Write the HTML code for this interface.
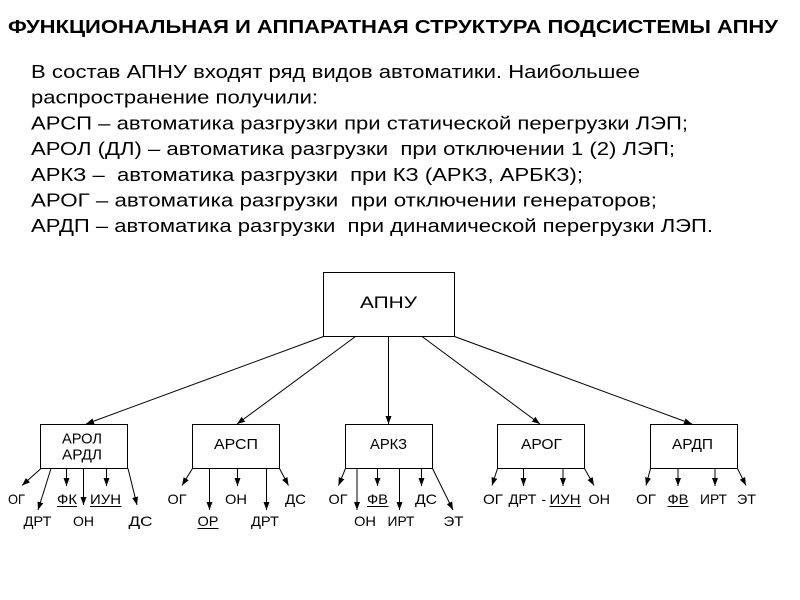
<!DOCTYPE html>
<html>
<head>
<meta charset="utf-8">
<style>
  html, body { margin:0; padding:0; background:#fff; }
  svg { display:block; }
  text { font-family: "Liberation Sans", "DejaVu Sans", sans-serif; fill:#000; }
  .b { font-size:18px; white-space:pre; }
  .s { font-size:14px; }
  .bx { font-size:15px; }
</style>
</head>
<body>
<svg width="800" height="600" viewBox="0 0 800 600" xmlns="http://www.w3.org/2000/svg">
  <defs>
    <marker id="ah" markerUnits="userSpaceOnUse" markerWidth="10" markerHeight="8" refX="8" refY="3" orient="auto">
      <path d="M0,0 L8,3 L0,6 z" fill="#000"/>
    </marker>
  </defs>

  <!-- Title -->
  <text x="8" y="33" font-size="18" font-weight="bold" textLength="770" lengthAdjust="spacingAndGlyphs">ФУНКЦИОНАЛЬНАЯ И АППАРАТНАЯ СТРУКТУРА ПОДСИСТЕМЫ АПНУ</text>

  <!-- Body text -->
  <text class="b" x="31" y="78" textLength="609" lengthAdjust="spacingAndGlyphs">В состав АПНУ входят ряд видов автоматики. Наибольшее</text>
  <text class="b" x="31" y="103.7" textLength="287" lengthAdjust="spacingAndGlyphs">распространение получили:</text>
  <text class="b" x="31" y="129.4" textLength="657" lengthAdjust="spacingAndGlyphs">АРСП – автоматика разгрузки при статической перегрузки ЛЭП;</text>
  <text class="b" x="31" y="155.1" textLength="644" lengthAdjust="spacingAndGlyphs">АРОЛ (ДЛ) – автоматика разгрузки  при отключении 1 (2) ЛЭП;</text>
  <text class="b" x="31" y="180.8" textLength="552" lengthAdjust="spacingAndGlyphs">АРКЗ –  автоматика разгрузки  при КЗ (АРКЗ, АРБКЗ);</text>
  <text class="b" x="31" y="206.5" textLength="626" lengthAdjust="spacingAndGlyphs">АРОГ – автоматика разгрузки  при отключении генераторов;</text>
  <text class="b" x="31" y="232.2" textLength="682" lengthAdjust="spacingAndGlyphs">АРДП – автоматика разгрузки  при динамической перегрузки ЛЭП.</text>

  <!-- Boxes -->
  <g fill="none" stroke="#000" stroke-width="1">
    <rect x="323.5" y="272.5" width="131" height="64"/>
    <rect x="40.5" y="424.5" width="87" height="44"/>
    <rect x="192.5" y="424.5" width="87" height="44"/>
    <rect x="345.5" y="424.5" width="87" height="44"/>
    <rect x="497.5" y="424.5" width="87" height="44"/>
    <rect x="650.5" y="424.5" width="87" height="44"/>
  </g>

  <text x="360" y="308" font-size="17" textLength="57" lengthAdjust="spacingAndGlyphs">АПНУ</text>
  <text class="bx" x="62" y="443.5" textLength="40" lengthAdjust="spacingAndGlyphs">АРОЛ</text>
  <text class="bx" x="62" y="459.5" textLength="40" lengthAdjust="spacingAndGlyphs">АРДЛ</text>
  <text class="bx" x="214" y="449" textLength="44" lengthAdjust="spacingAndGlyphs">АРСП</text>
  <text class="bx" x="370" y="449" textLength="37" lengthAdjust="spacingAndGlyphs">АРКЗ</text>
  <text class="bx" x="521" y="449" textLength="41" lengthAdjust="spacingAndGlyphs">АРОГ</text>
  <text class="bx" x="672" y="449" textLength="41" lengthAdjust="spacingAndGlyphs">АРДП</text>

  <!-- Arrows from APNU -->
  <g stroke="#000" stroke-width="1" fill="none" marker-end="url(#ah)">
    <line x1="323.5" y1="336.5" x2="86" y2="424"/>
    <line x1="355.5" y1="336.5" x2="237" y2="424"/>
    <line x1="388.5" y1="336.5" x2="388.5" y2="424"/>
    <line x1="422" y1="336.5" x2="540" y2="424"/>
    <line x1="454.5" y1="336.5" x2="692" y2="424"/>
  </g>

  <!-- Sub arrows -->
  <g stroke="#000" stroke-width="1" fill="none" marker-end="url(#ah)">
    <!-- G1 -->
    <line x1="41" y1="468.5" x2="22" y2="485.5"/>
    <line x1="51" y1="468.5" x2="38" y2="510"/>
    <line x1="66.5" y1="468.5" x2="66.5" y2="486"/>
    <line x1="83.5" y1="468.5" x2="83.5" y2="505"/>
    <line x1="106.5" y1="468.5" x2="106.5" y2="486"/>
    <line x1="128" y1="468.5" x2="137" y2="505"/>
    <!-- G2 -->
    <line x1="192.5" y1="468.5" x2="182" y2="485.5"/>
    <line x1="209.5" y1="468.5" x2="209.5" y2="510"/>
    <line x1="237.5" y1="468.5" x2="237.5" y2="486"/>
    <line x1="266.5" y1="468.5" x2="266.5" y2="510"/>
    <line x1="279.5" y1="468.5" x2="288.5" y2="485.5"/>
    <!-- G3 -->
    <line x1="345.5" y1="468.5" x2="338.5" y2="485.5"/>
    <line x1="357" y1="468.5" x2="357" y2="510"/>
    <line x1="377.5" y1="468.5" x2="377.5" y2="486"/>
    <line x1="399.5" y1="468.5" x2="399.5" y2="510"/>
    <line x1="421.5" y1="468.5" x2="421.5" y2="486"/>
    <line x1="432.5" y1="468.5" x2="453" y2="510"/>
    <!-- G4 -->
    <line x1="497.5" y1="468.5" x2="492" y2="485.5"/>
    <line x1="523.5" y1="468.5" x2="523.5" y2="486"/>
    <line x1="563" y1="468.5" x2="563" y2="486"/>
    <line x1="584.5" y1="468.5" x2="594" y2="485.5"/>
    <!-- G5 -->
    <line x1="650.5" y1="468.5" x2="646" y2="485.5"/>
    <line x1="678" y1="468.5" x2="678" y2="486"/>
    <line x1="715" y1="468.5" x2="715" y2="486"/>
    <line x1="737.5" y1="468.5" x2="746" y2="485.5"/>
  </g>

  <!-- Sub labels -->
  <g>
    <!-- G1 -->
    <text class="s" x="8" y="504" textLength="17" lengthAdjust="spacingAndGlyphs">ОГ</text>
    <text class="s" x="23.5" y="526" textLength="28" lengthAdjust="spacingAndGlyphs">ДРТ</text>
    <text class="s" x="57" y="504" textLength="20" lengthAdjust="spacingAndGlyphs">ФК</text>
    <text class="s" x="73" y="526" textLength="21" lengthAdjust="spacingAndGlyphs">ОН</text>
    <text class="s" x="90" y="504" textLength="31" lengthAdjust="spacingAndGlyphs">ИУН</text>
    <text class="s" x="128.5" y="526" textLength="24" lengthAdjust="spacingAndGlyphs">ДС</text>
    <!-- G2 -->
    <text class="s" x="167.5" y="504" textLength="19" lengthAdjust="spacingAndGlyphs">ОГ</text>
    <text class="s" x="197.5" y="526" textLength="21" lengthAdjust="spacingAndGlyphs">ОР</text>
    <text class="s" x="225" y="504" textLength="22" lengthAdjust="spacingAndGlyphs">ОН</text>
    <text class="s" x="251" y="526" textLength="28" lengthAdjust="spacingAndGlyphs">ДРТ</text>
    <text class="s" x="285" y="504" textLength="21" lengthAdjust="spacingAndGlyphs">ДС</text>
    <!-- G3 -->
    <text class="s" x="328.5" y="504" textLength="19" lengthAdjust="spacingAndGlyphs">ОГ</text>
    <text class="s" x="354" y="526" textLength="22" lengthAdjust="spacingAndGlyphs">ОН</text>
    <text class="s" x="367" y="504" textLength="21" lengthAdjust="spacingAndGlyphs">ФВ</text>
    <text class="s" x="387.5" y="526" textLength="27" lengthAdjust="spacingAndGlyphs">ИРТ</text>
    <text class="s" x="415" y="504" textLength="22" lengthAdjust="spacingAndGlyphs">ДС</text>
    <text class="s" x="443.5" y="526" textLength="20" lengthAdjust="spacingAndGlyphs">ЭТ</text>
    <!-- G4 -->
    <text class="s" x="483" y="504" textLength="20" lengthAdjust="spacingAndGlyphs">ОГ</text>
    <text class="s" x="508.5" y="504" textLength="28" lengthAdjust="spacingAndGlyphs">ДРТ</text>
    <text class="s" x="541.5" y="504" textLength="4.5" lengthAdjust="spacingAndGlyphs">-</text>
    <text class="s" x="549.5" y="504" textLength="31" lengthAdjust="spacingAndGlyphs">ИУН</text>
    <text class="s" x="588.5" y="504" textLength="21.5" lengthAdjust="spacingAndGlyphs">ОН</text>
    <!-- G5 -->
    <text class="s" x="636" y="504" textLength="20" lengthAdjust="spacingAndGlyphs">ОГ</text>
    <text class="s" x="667.5" y="504" textLength="21" lengthAdjust="spacingAndGlyphs">ФВ</text>
    <text class="s" x="700" y="504" textLength="27" lengthAdjust="spacingAndGlyphs">ИРТ</text>
    <text class="s" x="737" y="504" textLength="19" lengthAdjust="spacingAndGlyphs">ЭТ</text>
  </g>

  <!-- Underlines -->
  <g stroke="#000" stroke-width="1">
    <line x1="57" y1="506.5" x2="77" y2="506.5"/>
    <line x1="90" y1="506.5" x2="121.5" y2="506.5"/>
    <line x1="197.5" y1="528.5" x2="218.5" y2="528.5"/>
    <line x1="367" y1="506.5" x2="388.5" y2="506.5"/>
    <line x1="549.5" y1="506.5" x2="581" y2="506.5"/>
    <line x1="667.5" y1="506.5" x2="688.5" y2="506.5"/>
  </g>
</svg>
</body>
</html>
